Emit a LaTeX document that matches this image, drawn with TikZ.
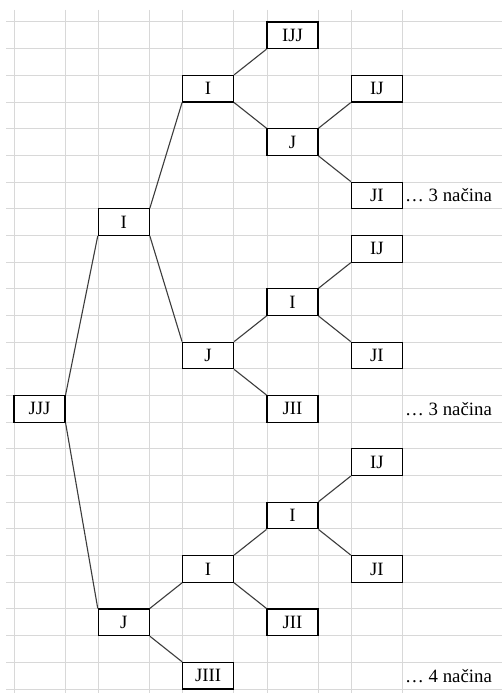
\documentclass[tikz,border=0pt]{standalone}
\usepackage{fontspec}
\setmainfont{Liberation Serif}
\begin{document}
\begin{tikzpicture}[x=1pt,y=-1pt,
  gridline/.style={draw=gridgray,line width=1pt},
  box/.style={draw=black,line width=1.1pt,fill=white,minimum width=51pt,minimum height=26.68pt,inner sep=0pt,font=\fontsize{18.8}{20}\selectfont},
  link/.style={draw=linkgray,line width=1.1pt},
  note/.style={anchor=west,inner sep=0pt,font=\fontsize{18.8}{20}\selectfont}]
\definecolor{gridgray}{RGB}{216,216,216}
\definecolor{linkgray}{RGB}{60,60,60}
\useasboundingbox[fill=white] (0,0) rectangle (502,693);
% grid
\foreach \xx in {14,65,98.3,149.3,182.6,233.6,267,318,351.3,402.3}
  \draw[gridline] (\xx,10) -- (\xx,693);
\foreach \k in {0,...,25}
  \draw[gridline] (6,{22+26.68*\k}) -- (502,{22+26.68*\k});
% nodes (columns centres 39.5,123.8,208.1,292.5,376.8)
\node[box] (JJJ) at (39.5,408.86) {JJJ};
\node[box] (I1) at (123.8,222.1) {I};
\node[box] (J1) at (123.8,622.3) {J};
\node[box] (I2a) at (208.1,88.7) {I};
\node[box] (J2a) at (208.1,355.5) {J};
\node[box] (I2b) at (208.1,568.94) {I};
\node[box] (JIII) at (208.1,675.66) {JIII};
\node[box] (IJJ) at (292.5,35.34) {IJJ};
\node[box] (J3a) at (292.5,142.06) {J};
\node[box] (I3b) at (292.5,302.14) {I};
\node[box] (JII3b) at (292.5,408.86) {JII};
\node[box] (I3c) at (292.5,515.58) {I};
\node[box] (JII3c) at (292.5,622.3) {JII};
\node[box] (IJ4a) at (376.8,88.7) {IJ};
\node[box] (JI4a) at (376.8,195.42) {JI};
\node[box] (IJ4b) at (376.8,248.78) {IJ};
\node[box] (JI4b) at (376.8,355.5) {JI};
\node[box] (IJ4c) at (376.8,462.22) {IJ};
\node[box] (JI4c) at (376.8,568.94) {JI};
% notes
\node[note] (n1) at (405,195.42) {… 3 načina};
\node[note] (n2) at (405,408.86) {… 3 načina};
\node[note] (n3) at (405,675.66) {… 4 načina};
% connectors
\foreach \p/\c in {JJJ/I1,I1/I2a,I2a/IJJ,J3a/IJ4a,J2a/I3b,I3b/IJ4b,J1/I2b,I2b/I3c,I3c/IJ4c}
  \draw[link] (\p.north east) -- (\c.south west);
\foreach \p/\c in {JJJ/J1,I1/J2a,I2a/J3a,J3a/JI4a,J2a/JII3b,I3b/JI4b,J1/JIII,I2b/JII3c,I3c/JI4c}
  \draw[link] (\p.south east) -- (\c.north west);
\end{tikzpicture}
\end{document}
